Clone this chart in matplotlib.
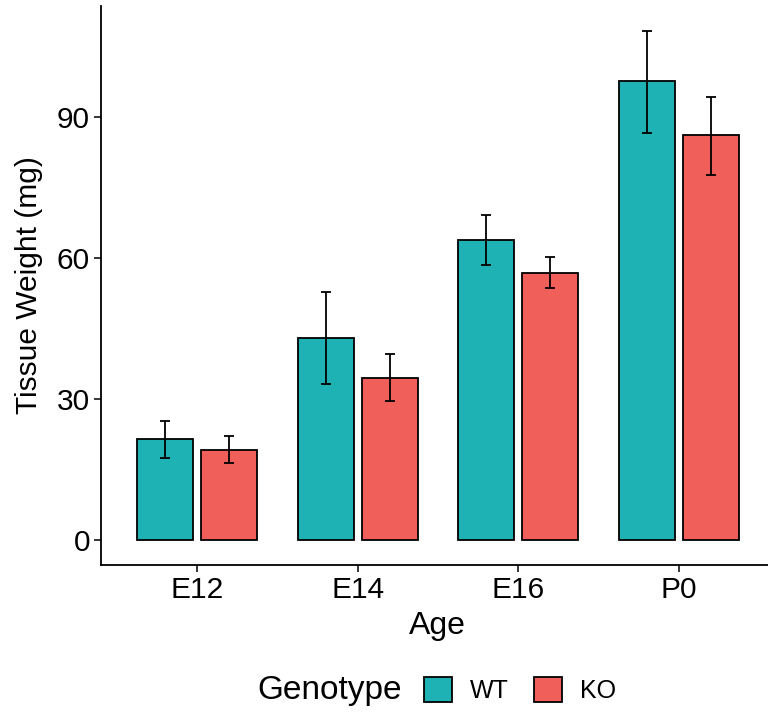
import matplotlib
matplotlib.use("Agg")
import matplotlib.pyplot as plt
import numpy as np
from matplotlib.patches import Patch

plt.rcParams['font.family'] = ['Liberation Sans', 'DejaVu Sans']

ages = ["E12", "E14", "E16", "P0"]
genotypes = ["WT", "KO"]
wt_mean = [21.3, 42.8, 63.8, 97.6]
wt_lo = [17.4, 33.1, 58.4, 86.6]
wt_hi = [25.3, 52.6, 69.0, 108.2]
ko_mean = [19.1, 34.4, 56.8, 86.0]
ko_lo = [16.3, 29.4, 53.5, 77.6]
ko_hi = [22.0, 39.4, 60.1, 94.2]
y_ticks = [0, 30, 60, 90]

colors = {"WT": "#1FB2B5", "KO": "#F15F5B"}

fig = plt.figure(figsize=(7.68, 7.17), dpi=100)
ax = fig.add_axes([101 / 768, 152 / 717, (775 - 101) / 768, (565 - 5.6) / 717])

x = np.arange(len(ages))
width = 0.35
offset = 0.2
series = [
    ("WT", wt_mean, wt_lo, wt_hi, -offset),
    ("KO", ko_mean, ko_lo, ko_hi, offset),
]
for name, mean, lo, hi, off in series:
    mean = np.array(mean)
    yerr = np.vstack([mean - np.array(lo), np.array(hi) - mean])
    ax.bar(x + off, mean, width=width, color=colors[name],
           edgecolor="black", linewidth=1.3, zorder=2)
    ax.errorbar(x + off, mean, yerr=yerr, fmt="none", ecolor="black",
                elinewidth=1.3, capsize=3.5, capthick=1.3, zorder=3)

ax.set_xlim(-0.6, 3.6)
ax.set_ylim(-5.41, 113.6)
ax.set_xticks(x)
ax.set_xticklabels(ages)
ax.set_yticks(y_ticks)
ax.tick_params(axis="both", labelsize=21.5, length=5, width=1.1,
               colors="black", pad=3)
for side in ("top", "right"):
    ax.spines[side].set_visible(False)
for side in ("left", "bottom"):
    ax.spines[side].set_linewidth(1.3)

ax.set_xlabel("Age", fontsize=23, labelpad=5)
ax.set_ylabel("Tissue Weight (mg)", fontsize=21.5, labelpad=10)
ax.xaxis.label.set_position(((437 - 101) / (775 - 101), 0))

fig.text(257 / 768, 1 - 691 / 717, "Genotype", fontsize=24,
         ha="left", va="center")
handles = [Patch(facecolor=colors[g], edgecolor="black", linewidth=1.3)
           for g in genotypes]
fig.legend(handles, genotypes, loc="center left",
           bbox_to_anchor=(424 / 768, 1 - 690 / 717), ncol=2,
           frameon=False, fontsize=18, handlelength=1.1,
           handleheight=1.15, handletextpad=0.75, columnspacing=1.0,
           borderpad=0, borderaxespad=0)

fig.savefig("out.png", dpi=100)
